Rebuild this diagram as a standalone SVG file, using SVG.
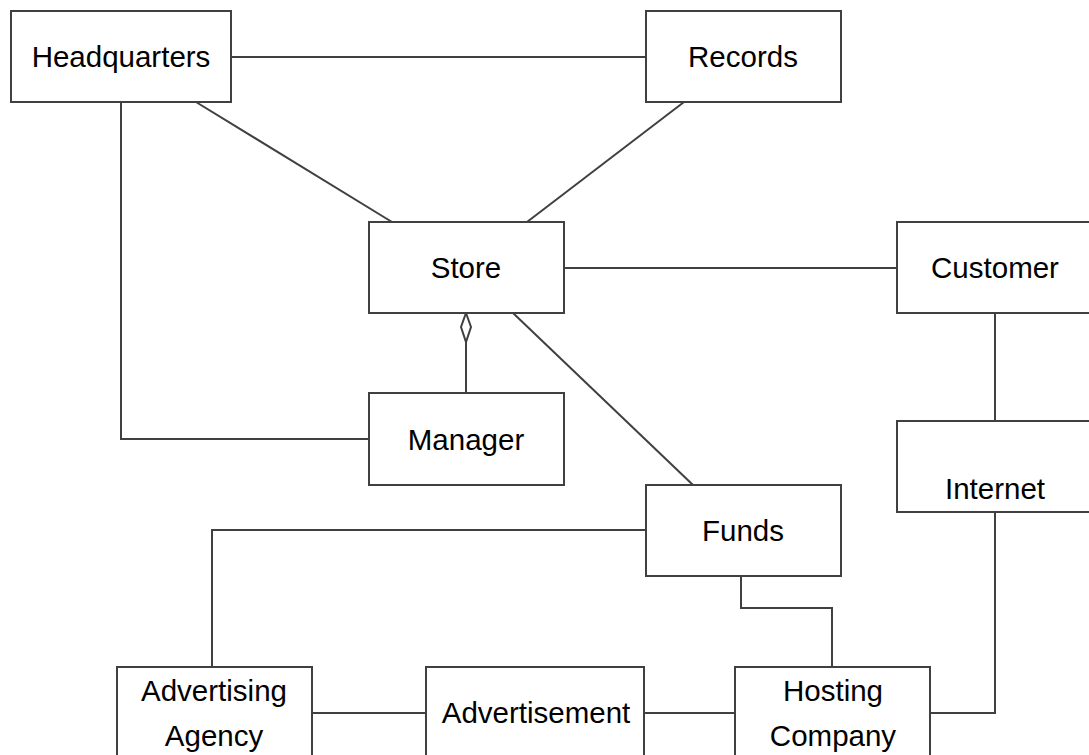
<svg xmlns="http://www.w3.org/2000/svg" width="1089" height="755" viewBox="0 0 1089 755">
<style>
.box{fill:#fff;stroke:#404040;stroke-width:2}
.t{font-family:"Liberation Sans",Arial,sans-serif;font-size:29.5px;fill:#000;text-anchor:middle}
.c{fill:none;stroke:#404040;stroke-width:2}
</style>
<rect width="1089" height="755" fill="#fff"/>
<g id="connectors">
<path class="c" d="M231,57H646"/>
<path class="c" d="M196,102L392,222"/>
<path class="c" d="M684,102L527,222"/>
<path class="c" d="M121,102V439H369"/>
<path class="c" d="M564,268H897"/>
<path class="c" d="M466,313L471,327L466,342L461,327Z"/>
<path class="c" d="M466,342V393"/>
<path class="c" d="M513,313L693,485"/>
<path class="c" d="M995,313V421"/>
<path class="c" d="M995,512V713H930"/>
<path class="c" d="M646,530H212V667"/>
<path class="c" d="M741,576V608H832V667"/>
<path class="c" d="M312,713H426"/>
<path class="c" d="M644,713H735"/>
</g>
<g id="headquarters"><rect class="box" x="11" y="11" width="220" height="91"/><text class="t" x="121" y="67">Headquarters</text></g>
<g id="records"><rect class="box" x="646" y="11" width="195" height="91"/><text class="t" x="743" y="67">Records</text></g>
<g id="store"><rect class="box" x="369" y="222" width="195" height="91"/><text class="t" x="466" y="278">Store</text></g>
<g id="customer"><rect class="box" x="897" y="222" width="200" height="91"/><text class="t" x="995" y="278">Customer</text></g>
<g id="manager"><rect class="box" x="369" y="393" width="195" height="92"/><text class="t" x="466" y="450">Manager</text></g>
<g id="internet"><rect class="box" x="897" y="421" width="200" height="91"/><text class="t" x="995" y="499">Internet</text></g>
<g id="funds"><rect class="box" x="646" y="485" width="195" height="91"/><text class="t" x="743" y="541">Funds</text></g>
<g id="advertising-agency"><rect class="box" x="117" y="667" width="195" height="100"/><text class="t" x="214" y="701">Advertising</text><text class="t" x="214" y="746">Agency</text></g>
<g id="advertisement"><rect class="box" x="426" y="667" width="218" height="100"/><text class="t" x="536" y="723">Advertisement</text></g>
<g id="hosting-company"><rect class="box" x="735" y="667" width="195" height="100"/><text class="t" x="833" y="701">Hosting</text><text class="t" x="833" y="746">Company</text></g>
</svg>
